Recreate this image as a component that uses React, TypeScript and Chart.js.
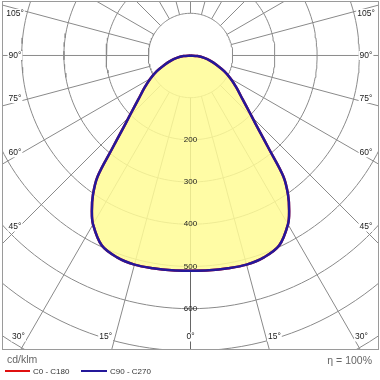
import React, { useEffect, useRef } from "react";
import { Chart, registerables } from "chart.js";
Chart.register(...registerables);

// Light distribution (cd/klm) — angle from nadir (deg) and intensity
const ANGLES = [0, 5, 10, 15, 20, 25, 30, 32.5, 35, 37.5, 40, 42.5, 45, 47.5, 50, 55, 60, 65, 70, 75, 80, 85, 90];
const C0_C180 = [510, 511, 512, 513, 509, 497, 462, 435, 403, 362, 290, 240, 206, 181, 161, 133, 110, 88, 66, 49, 33, 16.5, 0];
const C90_C270 = [510, 511, 512, 513, 509, 497, 462, 435, 403, 362, 290, 240, 206, 181, 161, 133, 110, 88, 66, 49, 33, 16.5, 0];

// Polar grid
const RINGS = [100, 200, 300, 400, 500, 600, 700, 800];
const RING_LABELS = [200, 300, 400, 500, 600];
const RADIAL_ANGLES = [0, 15, 30, 45, 60, 75, 90, 105, 120, 135, 150, 165, 180, 195, 210, 225, 240, 255, 270, 285, 300, 315, 330, 345];
const SIDE_ANGLE_LABELS = [45, 60, 75, 90, 105];
const BOTTOM_ANGLE_LABELS = [0, 15, 30];
const INNER_RING = 100;
const OUTER_RADIUS = 1200;

// axis ranges (cd/klm)
const X_MIN = -446.7;
const X_MAX = 446.7;
const Y_MIN = -697.9;
const Y_MAX = 129.1;

const rad = (d: number) => (d * Math.PI) / 180;
const polar = (r: number, deg: number) => ({ x: r * Math.sin(rad(deg)), y: -r * Math.cos(rad(deg)) });

function curvePoints(vals: number[]) {
  const pts: { x: number; y: number }[] = [];
  for (let i = ANGLES.length - 1; i >= 0; i--) pts.push(polar(vals[i], -ANGLES[i]));
  for (let i = 1; i < ANGLES.length; i++) pts.push(polar(vals[i], ANGLES[i]));
  return pts;
}

const GRID = "#8a8a8a";
const FONT = "'Liberation Sans', Arial, sans-serif";
const RED = "#e01010";
const BLUE = "#24189a";

const labelsPlugin = {
  id: "polarLabels",
  afterDatasetsDraw(chart: any) {
    const { ctx, chartArea, scales } = chart;
    const xs = scales.x, ys = scales.y;
    const cx = xs.getPixelForValue(0);
    const cy = ys.getPixelForValue(0);
    ctx.save();
    ctx.font = `8px ${FONT}`;
    ctx.fillStyle = "#222";
    ctx.textAlign = "center";
    ctx.textBaseline = "middle";
    RING_LABELS.forEach((r) => {
      ctx.fillText(String(r), cx, ys.getPixelForValue(-r));
    });

    ctx.font = `8.5px ${FONT}`;
    const drawBox = (text: string, x: number, y: number, align: string) => {
      const w = ctx.measureText(text).width;
      let x0 = x - w / 2;
      if (align === "right") x0 = x - w;
      if (align === "left") x0 = x;
      ctx.fillStyle = "#fff";
      ctx.fillRect(x0 - 1, y - 4.5, w + 2, 9);
      ctx.fillStyle = "#222";
      ctx.textAlign = align;
      ctx.fillText(text, x, y);
    };

    SIDE_ANGLE_LABELS.forEach((a) => {
      const s = Math.sin(rad(a));
      const c = Math.cos(rad(a));
      const off = a < 90 ? -4 : a > 90 ? 5 : 0;
      const lx = chartArea.left + 13;
      const ly = cy + ((cx - lx) / s) * c + off;
      drawBox(`${a}°`, lx, ly, "center");
      const rx = chartArea.right - 13;
      const ry = cy + ((rx - cx) / s) * c + off;
      drawBox(`${a}°`, rx, ry, "center");
    });

    const by = chartArea.bottom - 13;
    BOTTOM_ANGLE_LABELS.forEach((a) => {
      const t = (by - cy) / Math.cos(rad(a));
      const dx = t * Math.sin(rad(a));
      if (a === 0) {
        drawBox(`${a}°`, cx, by, "center");
      } else {
        drawBox(`${a}°`, cx - dx - 3, by, "right");
        drawBox(`${a}°`, cx + dx + 2, by, "left");
      }
    });
    ctx.restore();
  },
  afterDraw(chart: any) {
    const { ctx, chartArea } = chart;
    ctx.save();
    ctx.strokeStyle = "#9a9a9a";
    ctx.lineWidth = 1;
    ctx.strokeRect(
      Math.round(chartArea.left) + 0.5,
      Math.round(chartArea.top) + 0.5,
      Math.round(chartArea.right - chartArea.left) - 1,
      Math.round(chartArea.bottom - chartArea.top) - 1
    );
    ctx.restore();
  },
};

export default function App() {
  const ref = useRef<HTMLCanvasElement | null>(null);

  useEffect(() => {
    if (!ref.current) return;
    const gridSets: any[] = [];
    RINGS.forEach((r) => {
      const pts = [];
      for (let d = 0; d <= 360; d += 2) pts.push(polar(r, d));
      gridSets.push({
        data: pts,
        showLine: true,
        borderColor: GRID,
        borderWidth: 1,
        pointRadius: 0,
        fill: false,
        tension: 0,
        order: 10,
      });
    });
    RADIAL_ANGLES.forEach((a) => {
      gridSets.push({
        data: [polar(INNER_RING, a), polar(OUTER_RADIUS, a)],
        showLine: true,
        borderColor: a === 0 ? "#666" : GRID,
        borderWidth: 1,
        pointRadius: 0,
        fill: false,
        order: 10,
      });
    });

    const chart = new Chart(ref.current, {
      type: "scatter",
      data: {
        datasets: [
          ...gridSets,
          {
            label: "C0 - C180",
            data: curvePoints(C0_C180),
            showLine: true,
            borderColor: RED,
            borderWidth: 2.5,
            backgroundColor: "rgba(255, 252, 150, 0.86)",
            fill: "shape",
            pointRadius: 0,
            tension: 0.35,
            order: 1,
          },
          {
            label: "C90 - C270",
            data: curvePoints(C90_C270),
            showLine: true,
            borderColor: BLUE,
            borderWidth: 2.5,
            fill: false,
            pointRadius: 0,
            tension: 0.35,
            order: 0,
          },
        ],
      },
      options: {
        animation: false,
        responsive: false,
        devicePixelRatio: 1,
        layout: { padding: { left: 2, right: 1, top: 1, bottom: 30 } },
        scales: {
          x: { type: "linear", min: X_MIN, max: X_MAX, display: false },
          y: { type: "linear", min: Y_MIN, max: Y_MAX, display: false },
        },
        plugins: {
          legend: { display: false },
          tooltip: { enabled: false },
        },
      } as any,
      plugins: [labelsPlugin],
    });
    return () => chart.destroy();
  }, []);

  const small: React.CSSProperties = {
    position: "absolute",
    fontFamily: FONT,
    whiteSpace: "nowrap",
    lineHeight: 1,
  };

  return (
    <div style={{ position: "fixed", left: 0, top: 0, width: 380, height: 380, background: "#fff", overflow: "hidden" }}>
      <canvas ref={ref} width={380} height={380} style={{ position: "absolute", left: 0, top: 0, width: 380, height: 380 }} />
      <div style={{ ...small, left: 7, top: 354, fontSize: 10.5, color: "#666" }}>cd/klm</div>
      <div style={{ position: "absolute", left: 5, top: 370, width: 25, height: 2, background: RED }} />
      <div style={{ ...small, left: 33, top: 367.5, fontSize: 8, color: "#333" }}>C0 - C180</div>
      <div style={{ position: "absolute", left: 81, top: 370, width: 26, height: 2, background: BLUE }} />
      <div style={{ ...small, left: 110, top: 367.5, fontSize: 8, color: "#333" }}>C90 - C270</div>
      <div style={{ ...small, right: 8, top: 355, fontSize: 10.5, color: "#666" }}>η = 100%</div>
    </div>
  );
}
